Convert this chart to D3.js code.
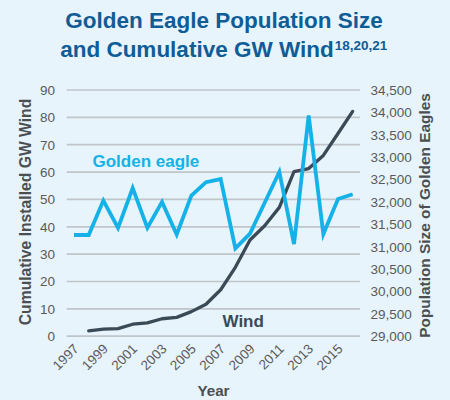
<!DOCTYPE html>
<html>
<head>
<meta charset="utf-8">
<script src="https://cdn.jsdelivr.net/npm/d3@7"></script>
<style>
  html, body { margin: 0; padding: 0; background: #e7f4fb; }
  svg { display: block; font-family: "Liberation Sans", Arial, sans-serif; }
</style>
</head>
<body>
<svg id="chart"></svg>
<script>
// years on the x axis
const years = d3.range(1997, 2017);
// cumulative installed wind, GW (starts 1998)
const windYears = d3.range(1998, 2017);
const windGW = [1.8, 2.4, 2.6, 4.2, 4.7, 6.2, 6.7, 8.8, 11.5, 16.8, 25.0, 35.0, 40.2, 46.9, 60.0, 61.1, 65.9, 73.9, 82.0];
// golden eagle population size
const eagles = [31250, 31250, 32020, 31410, 32300, 31410, 31990, 31260, 32130, 32430, 32500,
  30950, 31280, 31970, 32660, 31045, 33920, 31270, 32055, 32160];
const leftTicks = d3.range(0, 100, 10);
const rightTicks = d3.range(29000, 35000, 500);
const xTickYears = d3.range(1997, 2017, 2);

const width = 450, height = 400;
const plot = { left: 66.7, right: 360, top: 89.5, bottom: 335.7 };

const svg = d3.select("#chart").attr("width", width).attr("height", height);

svg.append("rect").attr("width", width).attr("height", height).attr("fill", "#e7f4fb");

// Scales
const xScale = d3.scalePoint().domain(years).range([plot.left, plot.right]).padding(0.5);
const yLeft = d3.scaleLinear().domain([0, 90]).range([plot.bottom, plot.top]);
const yRight = d3.scaleLinear().domain([29000, 34500]).range([plot.bottom, plot.top]);

// Title
const title = svg.append("text")
  .attr("text-anchor", "middle")
  .attr("fill", "#0f5c97")
  .attr("font-weight", "bold")
  .attr("font-size", 22.5);
title.append("tspan").attr("x", 224).attr("y", 27.5).text("Golden Eagle Population Size");
const t2 = title.append("tspan").attr("x", 223.7).attr("y", 56.5);
t2.append("tspan").text("and Cumulative GW Wind");
t2.append("tspan").attr("font-size", 13.5).attr("dy", -6.5).attr("dx", 1).text("18,20,21");

// Grid lines from left axis ticks
const yAxisL = d3.axisLeft(yLeft).tickValues(leftTicks).tickSize(0).tickPadding(0);
svg.append("g")
  .attr("transform", `translate(${plot.left},0)`)
  .call(d3.axisLeft(yLeft).tickValues(leftTicks).tickSize(-(plot.right - plot.left)).tickFormat(""))
  .call(g => g.select(".domain").remove())
  .call(g => g.selectAll(".tick line").attr("stroke", "#c0c5c9").attr("stroke-width", 1.7));

// Left axis labels
svg.append("g")
  .attr("transform", `translate(55,0)`)
  .call(yAxisL)
  .call(g => g.select(".domain").remove())
  .call(g => g.selectAll("text").attr("font-size", 13.5).attr("fill", "#5a5a5a")
    .attr("font-family", "Liberation Sans, Arial, sans-serif").attr("dy", "0.36em"));

// Right axis labels
svg.append("g")
  .attr("transform", `translate(370.5,0)`)
  .call(d3.axisRight(yRight).tickValues(rightTicks).tickSize(0).tickPadding(0).tickFormat(d3.format(",")))
  .call(g => g.select(".domain").remove())
  .call(g => g.selectAll("text").attr("font-size", 13.5).attr("fill", "#5a5a5a")
    .attr("font-family", "Liberation Sans, Arial, sans-serif").attr("dy", "0.36em"));

// X axis labels, rotated
svg.append("g")
  .attr("transform", `translate(0,${plot.bottom})`)
  .call(d3.axisBottom(xScale).tickValues(xTickYears).tickSize(0).tickPadding(0).tickFormat(d => d))
  .call(g => g.select(".domain").remove())
  .call(g => g.selectAll("text")
    .attr("font-size", 13.5)
    .attr("fill", "#5a5a5a")
    .attr("font-family", "Liberation Sans, Arial, sans-serif")
    .attr("text-anchor", "end")
    .attr("y", 0).attr("dy", 0)
    .attr("transform", "translate(5,14) rotate(-45)"));

// Axis titles
svg.append("text")
  .attr("transform", "translate(31,212) rotate(-90)")
  .attr("text-anchor", "middle")
  .attr("font-weight", "bold").attr("font-size", 15.7).attr("fill", "#4b4f53")
  .text("Cumulative Installed GW Wind");

svg.append("text")
  .attr("transform", "translate(430,215.5) rotate(-90)")
  .attr("text-anchor", "middle")
  .attr("font-weight", "bold").attr("font-size", 15.4).attr("fill", "#4b4f53")
  .text("Population Size of Golden Eagles");

svg.append("text")
  .attr("x", 213.5).attr("y", 396)
  .attr("text-anchor", "middle")
  .attr("font-weight", "bold").attr("font-size", 15.2).attr("fill", "#4b4f53")
  .text("Year");

// Lines
const windLine = d3.line()
  .x((d, i) => xScale(windYears[i]))
  .y(d => yLeft(d));
svg.append("path")
  .datum(windGW)
  .attr("d", windLine)
  .attr("fill", "none")
  .attr("stroke", "#3b4a57")
  .attr("stroke-width", 3.3)
  .attr("stroke-linejoin", "round")
  .attr("stroke-linecap", "round");

const eagleLine = d3.line()
  .x((d, i) => xScale(years[i]))
  .y(d => yRight(d));
svg.append("path")
  .datum(eagles)
  .attr("d", eagleLine)
  .attr("fill", "none")
  .attr("stroke", "#14b2e8")
  .attr("stroke-width", 3.8)
  .attr("stroke-linejoin", "miter");

// Series labels
svg.append("text")
  .attr("x", 92.5).attr("y", 166.5)
  .attr("font-weight", "bold").attr("font-size", 17).attr("fill", "#14b2e8")
  .text("Golden eagle");

svg.append("text")
  .attr("x", 222.5).attr("y", 326.5)
  .attr("font-weight", "bold").attr("font-size", 17).attr("fill", "#3b4a57")
  .text("Wind");
</script>
</body>
</html>
